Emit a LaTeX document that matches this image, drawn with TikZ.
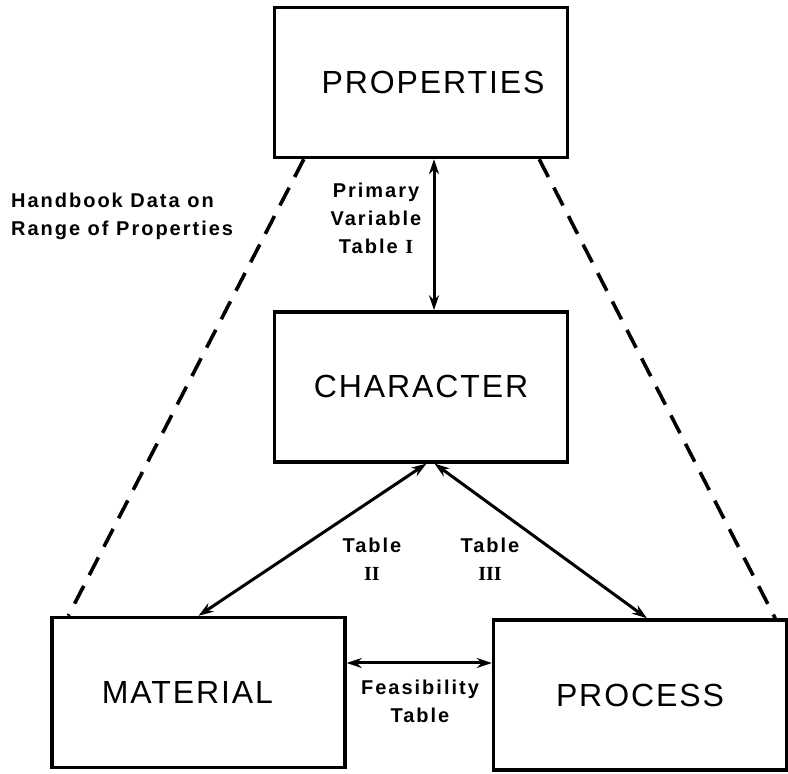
\documentclass[tikz,border=0pt]{standalone}
\usepackage{fontspec}
\setmainfont{Liberation Sans}
\newfontfamily\boxfont[LetterSpace=6]{Liberation Sans}
\newfontfamily\labelfont[LetterSpace=10]{Liberation Sans}
\newfontfamily\numfont{Liberation Serif}
\usetikzlibrary{positioning,arrows.meta}
\tikzstyle{boxnode}=[draw, rectangle, line width=1.7pt, minimum width=146.5pt, minimum height=75pt, font=\boxfont\fontsize{16}{19}\selectfont]
\tikzstyle{labelnode}=[draw=none, fill=none, align=center, font=\labelfont\bfseries\fontsize{10}{14}\selectfont]
\tikzstyle{link}=[line width=1.5pt, {Stealth[open,length=7.5pt,width=5pt]}-{Stealth[open,length=7.5pt,width=5pt]}]
\tikzstyle{guide}=[line width=1.8pt, dash pattern=on 10pt off 6pt]

\begin{document}
\begin{tikzpicture}[x=0.5pt,y=-0.5pt]
\useasboundingbox (0,0) rectangle (788,774);
\node[boxnode] (props) at (421,82.5) {\hspace*{12pt}PROPERTIES};
\node[boxnode, below=75.5pt of props] (char) {CHARACTER};
\node[boxnode] (mat) at (198.5,692.5) {MATERIAL\hspace*{11pt}};
\node[boxnode] (proc) at (640,695) {PROCESS};
\node[labelnode] (primary) at (376,218) {Primary\\Variable\\Table {\numfont\bfseries I}};
\node[labelnode] (tabtwo) at (372,559) {Table\\{\numfont\bfseries II}};
\node[labelnode] (tabthree) at (490,559) {Table\\{\numfont\bfseries III}};
\node[labelnode] (feas) at (420,701) {Feasibility\\Table};
\node[labelnode, align=left, anchor=west] (handbook) at (4,216) {Handbook Data on\\Range of Properties};
\draw[link] ([xshift=6.5pt]props.south) -- ([xshift=6.5pt]char.north);
\draw[link] ([xshift=2.75pt]char.south) -- (mat.north);
\draw[link] ([xshift=6.75pt]char.south) -- ([xshift=3.5pt]proc.north);
\draw[link] ([yshift=14.75pt]mat.east) -- ([yshift=14.75pt]mat.east -| proc.west);
\draw[guide] ([xshift=15.5pt]props.south west) -- ([xshift=9pt]mat.north west);
\draw[guide] ([xshift=-15pt]props.south east) -- ([xshift=-6.5pt]proc.north east);
\end{tikzpicture}
\end{document}
